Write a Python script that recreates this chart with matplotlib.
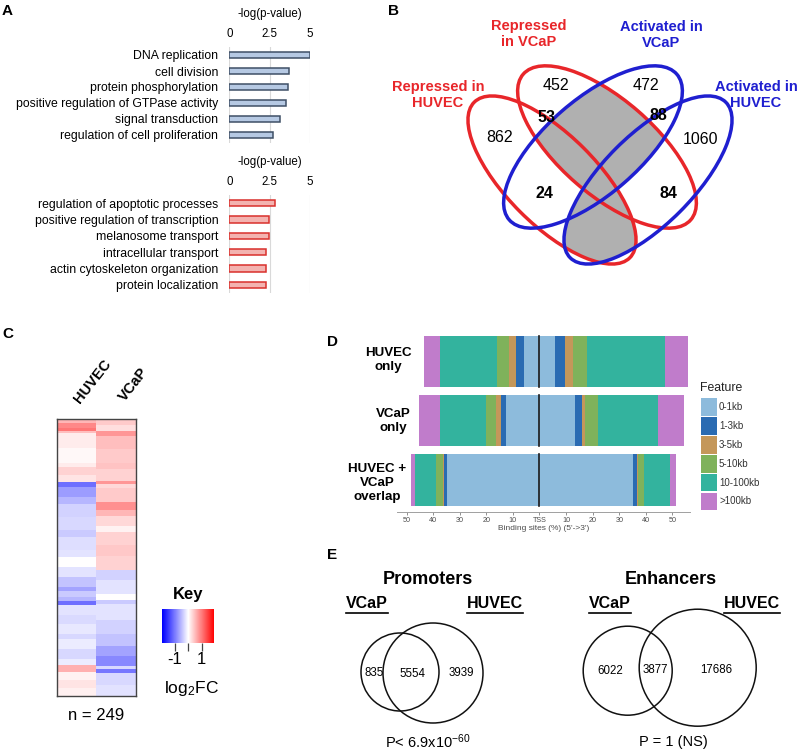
import numpy as np
import matplotlib
matplotlib.use('Agg')
import matplotlib.pyplot as plt
from matplotlib.patches import Ellipse, Circle, Rectangle
from matplotlib.colors import LinearSegmentedColormap, Normalize
import matplotlib.colorbar as mcolorbar

plt.rcParams['font.family'] = ['Liberation Sans', 'DejaVu Sans']
plt.rcParams['mathtext.fontset'] = 'custom'
plt.rcParams['mathtext.rm'] = 'Liberation Sans'
plt.rcParams['mathtext.it'] = 'Liberation Sans:italic'
plt.rcParams['mathtext.bf'] = 'Liberation Sans:bold'

W, H = 800, 751

# ---------------------------------------------------------------------------
# data
# ---------------------------------------------------------------------------
# A: GO terms
go_up_terms = ['DNA replication', 'cell division', 'protein phosphorylation',
               'positive regulation of GTPase activity', 'signal transduction',
               'regulation of cell proliferation']
go_up_vals = [5.0, 3.7, 3.65, 3.5, 3.15, 2.7]
go_down_terms = ['regulation of apoptotic processes',
                 'positive regulation of transcription', 'melanosome transport',
                 'intracellular transport', 'actin cytoskeleton organization',
                 'protein localization']
go_down_vals = [2.83, 2.48, 2.48, 2.25, 2.25, 2.25]
go_ticks = [0, 2.5, 5]

# B: four-way venn counts
venn_sets = ['Repressed in\nHUVEC', 'Repressed\nin VCaP', 'Activated in\nVCaP', 'Activated in\nHUVEC']
venn_counts = {'rep_huvec': 862, 'rep_vcap': 452, 'act_vcap': 472, 'act_huvec': 1060,
               'rep_both': 53, 'act_both': 88, 'rep_huvec_act_vcap': 24, 'rep_vcap_act_huvec': 84}

# C: heatmap (run-length encoded rows, log2FC)
huvec_vals = [0.55, 0.9, 1.05, 0.5, 0.15, 0.05, 0.15, 0.35, 0.2,
              -1.1, -0.75, -0.55, -0.35, -0.3, -0.4, -0.25, -0.2,
              0.0, -0.2, -0.45, -0.7, -0.4, -0.55, -1.1,
              -0.2, -0.28, -0.18, -0.3, -0.15, -0.3, -0.15, 0.6,
              0.1, 0.2, 0.12]
huvec_n = [4, 4, 3, 2, 13, 14, 3, 7, 7,
           4, 9, 6, 12, 12, 6, 12, 6,
           9, 9, 9, 4, 5, 4, 3,
           9, 8, 9, 5, 9, 9, 5, 6,
           8, 7, 7]
vcap_vals = [0.4, 0.25, 0.8, 0.5, 0.4, 0.45, 0.35, 0.8, 0.3, 0.4,
             0.85, 0.55, 0.3, 0.1, 0.35, 0.42,
             0.35, -0.35, -0.2, 0.0, -0.4, -0.2,
             -0.35, -0.45, -0.7, -0.9, -0.3, -1.05, -0.3, -0.22]
vcap_n = [5, 6, 4, 12, 13, 5, 11, 2, 4, 13,
          7, 5, 9, 6, 11, 10,
          13, 9, 12, 6, 3, 15,
          12, 11, 9, 9, 3, 3, 11, 10]
heat_cols = ['HUVEC', 'VCaP']
n_genes = 249

# D: binding site distribution around TSS (%)
features = ['0-1kb', '1-3kb', '3-5kb', '5-10kb', '10-100kb', '>100kb']
feat_colors = ['#8dbbdc', '#2a6bb2', '#c4975a', '#7fb25b', '#33b39e', '#c07ccb']
groups = ['HUVEC\nonly', 'VCaP\nonly', 'HUVEC +\nVCaP\noverlap']
upstream = [[5.75, 3.15, 2.7, 4.4, 21.25, 6.25],
            [12.5, 1.9, 1.85, 3.85, 17.4, 7.9],
            [34.75, 1.0, 0.65, 2.35, 8.25, 1.5]]
downstream = [[5.9, 3.7, 2.9, 5.25, 29.4, 8.8],
              [13.4, 2.5, 1.2, 5.0, 22.3, 9.85],
              [35.0, 1.5, 0.6, 2.15, 9.75, 2.25]]
d_ticks = [-50, -40, -30, -20, -10, 0, 10, 20, 30, 40, 50]
d_ticklabels = ['50', '40', '30', '20', '10', 'TSS', '10', '20', '30', '40', '50']

# E: two-way venns
prom_counts = [835, 5554, 3939]
enh_counts = [6022, 3877, 17686]
prom_p = r'P< 6.9x10$^{-60}$'
enh_p = 'P = 1 (NS)'

RED = '#e8262a'
BLUE = '#1f1fd0'

fig = plt.figure(figsize=(W / 100, H / 100), dpi=100, facecolor='white')


def px_axes(x0, y0, x1, y1):
    return fig.add_axes([x0 / W, 1 - y1 / H, (x1 - x0) / W, (y1 - y0) / H])


ov = fig.add_axes([0, 0, 1, 1])
ov.set_xlim(0, W)
ov.set_ylim(H, 0)
ov.axis('off')
ov.set_zorder(5)

# panel letters
for lab, (x, y) in zip('ABCDE', [(2, 11), (388, 11), (2, 334), (327, 342), (327, 555)]):
    ov.text(x, y, lab, fontsize=11, fontweight='bold', ha='left', va='center')

# ---------------------------------------------------------------------------
# A
# ---------------------------------------------------------------------------
def go_panel(box, terms, vals, fill, edge):
    ax = px_axes(*box)
    ax.barh(range(len(vals)), vals, height=0.38, color=fill, edgecolor=edge, lw=1.1, zorder=3)
    ax.set_xlim(0, 5)
    ax.set_ylim(len(vals) - 0.5, -0.5)
    ax.set_xticks(go_ticks)
    ax.set_xticklabels(['0', '2.5', '5'], fontsize=8.3)
    ax.xaxis.tick_top()
    ax.xaxis.set_label_position('top')
    ax.set_xlabel('-log(p-value)', fontsize=8.3, labelpad=8)
    ax.set_yticks(range(len(terms)))
    ax.set_yticklabels(terms, fontsize=8.8)
    ax.tick_params(axis='y', length=0, pad=8)
    ax.tick_params(axis='x', length=0, pad=5)
    ax.grid(axis='x', color='#d9d9d9', lw=0.8, zorder=0)
    for s in ax.spines.values():
        s.set_visible(False)
    return ax


go_panel((229.3, 47, 310, 143), go_up_terms, go_up_vals, '#b6c9e3', '#3e4f66')
go_panel((229.3, 195, 310, 293), go_down_terms, go_down_vals, '#f3b3b0', '#d9302c')

# ---------------------------------------------------------------------------
# B
# ---------------------------------------------------------------------------
ell = [Ellipse((552, 180), 220, 90, angle=45),
       Ellipse((607, 147), 222, 95, angle=41),
       Ellipse((593, 147), 222, 95, angle=-41),
       Ellipse((648, 180), 220, 90, angle=-45)]
ell_colors = [RED, RED, BLUE, BLUE]

# impossible overlaps shaded grey
for fill_i, clip_i in [(2, 1), (3, 0)]:
    e = ell[fill_i]
    g = Ellipse(e.center, e.width, e.height, angle=e.angle, facecolor='#b0b0b0', edgecolor='none')
    ov.add_patch(g)
    c = Ellipse(ell[clip_i].center, ell[clip_i].width, ell[clip_i].height,
                angle=ell[clip_i].angle, transform=ov.transData)
    g.set_clip_path(c)

for e, col in zip(ell, ell_colors):
    e.set_facecolor('none')
    e.set_edgecolor(col)
    e.set_linewidth(2.5)
    ov.add_patch(e)

for txt, (x, y), col in zip(venn_sets, [(438, 95), (529, 34), (661, 35), (756, 95)],
                            [RED, RED, BLUE, BLUE]):
    ov.text(x, y, txt, color=col, fontsize=10.5, fontweight='bold', ha='center', va='center',
            linespacing=1.2)

num_pos = {'rep_huvec': (500, 138, 'normal'), 'rep_vcap': (556, 85, 'normal'),
           'act_vcap': (646, 85, 'normal'), 'act_huvec': (701, 139, 'normal'),
           'rep_both': (546, 118, 'bold'), 'act_both': (658, 115, 'bold'),
           'rep_huvec_act_vcap': (544, 194, 'bold'), 'rep_vcap_act_huvec': (668, 194, 'bold')}
for k, v in venn_counts.items():
    x, y, wgt = num_pos[k]
    ov.text(x, y, str(v), fontsize=11.5, fontweight=wgt, ha='center', va='center')

# ---------------------------------------------------------------------------
# C
# ---------------------------------------------------------------------------
heat = np.column_stack([np.repeat(huvec_vals, huvec_n), np.repeat(vcap_vals, vcap_n)])
cmap = LinearSegmentedColormap.from_list('bluered', ['#0000ff', '#ffffff', '#ff0000'])
norm = Normalize(-1.95, 1.95)

axc = px_axes(57.3, 419, 136, 695.7)
axc.imshow(heat, aspect='auto', cmap=cmap, norm=norm, interpolation='nearest')
axc.set_xticks([])
axc.set_yticks([])
for s in axc.spines.values():
    s.set_color('#444444')
    s.set_linewidth(1.0)

for lab, (x, y) in zip(heat_cols, [(93, 381), (134, 384)]):
    ov.text(x, y, lab, fontsize=10.5, fontweight='bold', rotation=52, ha='center', va='center')

ov.text(96, 715, 'n = %d' % n_genes, fontsize=12, ha='center', va='center')

ov.text(188, 594, 'Key', fontsize=12, fontweight='bold', ha='center', va='center')
cax = px_axes(162.3, 609, 214.3, 642.7)
cb = mcolorbar.ColorbarBase(cax, cmap=cmap, norm=norm, orientation='horizontal', ticks=[-1, 0, 1])
cb.set_ticklabels(['-1', '', '1'])
cb.outline.set_visible(False)
cax.tick_params(axis='x', length=6, width=0.9, color='#444444', labelsize=12, pad=1)
ov.text(192, 688, r'log$_2$FC', fontsize=12.5, ha='center', va='center')

# ---------------------------------------------------------------------------
# D
# ---------------------------------------------------------------------------
axd = px_axes(396.7, 332, 690, 512)
for i in range(len(groups)):
    up_left = np.concatenate([[0], np.cumsum(upstream[i])[:-1]])
    dn_left = np.concatenate([[0], np.cumsum(downstream[i])[:-1]])
    for j, f in enumerate(features):
        axd.barh(i, -upstream[i][j], left=-up_left[j], height=0.88, color=feat_colors[j], lw=0)
        axd.barh(i, downstream[i][j], left=dn_left[j], height=0.88, color=feat_colors[j], lw=0)
    axd.plot([0, 0], [i - 0.44, i + 0.44], color='#1a1a1a', lw=1.2)
axd.set_xlim(-53.7, 56.6)
axd.set_ylim(2.55, -0.5)
axd.set_yticks([])
axd.set_xticks(d_ticks)
axd.set_xticklabels(d_ticklabels, fontsize=5.2, color='#4d4d4d')
axd.tick_params(axis='x', length=2, width=0.6, color='#7f7f7f', pad=1.5)
axd.set_xlabel("Binding sites (%) (5'->3')", fontsize=6, color='#4d4d4d', labelpad=1)
axd.patch.set_alpha(0)
for k in ['top', 'right', 'left']:
    axd.spines[k].set_visible(False)
axd.spines['bottom'].set_color('#a0a0a0')
axd.spines['bottom'].set_linewidth(0.7)

for txt, (x, y) in zip(groups, [(388, 360), (393, 421), (377, 483)]):
    ov.text(x, y, txt, fontsize=9.6, fontweight='bold', ha='center', va='center',
            linespacing=1.25)

ov.text(700, 388, 'Feature', fontsize=8.8, ha='left', va='center', color='#222222')
for j, (f, c) in enumerate(zip(features, feat_colors)):
    y0 = 397.5 + j * 18.9
    ov.add_patch(Rectangle((700.7, y0 + 0.6), 16, 17.7, facecolor=c, edgecolor='none'))
    ov.text(719, y0 + 9.5, f, fontsize=7, ha='left', va='center', color='#333333')

# ---------------------------------------------------------------------------
# E
# ---------------------------------------------------------------------------
ov.text(428, 579, 'Promoters', fontsize=13, fontweight='bold', ha='center', va='center')
ov.text(671, 579, 'Enhancers', fontsize=13, fontweight='bold', ha='center', va='center')

set_labels = []
for txt, (x, y) in zip(['VCaP', 'HUVEC', 'VCaP', 'HUVEC'],
                       [(367, 604), (495, 604), (610, 604), (752, 604)]):
    set_labels.append(ov.text(x, y, txt, fontsize=11.5, fontweight='bold', ha='center', va='center'))

for (x, y, r) in [(400, 672, 39), (433, 673, 50), (627.7, 670.7, 44.5), (697.7, 667.7, 58.5)]:
    ov.add_patch(Circle((x, y), r, facecolor='none', edgecolor='#111111', lw=1.1))

for v, (x, y) in zip(prom_counts, [(374, 673), (412, 674), (461, 673)]):
    ov.text(x, y, str(v), fontsize=8.3, ha='center', va='center')
for v, (x, y) in zip(enh_counts, [(610.7, 671), (655.7, 670), (716, 670)]):
    ov.text(x, y, str(v), fontsize=8.3, ha='center', va='center')

ov.text(428, 742, prom_p, fontsize=10.5, ha='center', va='center')
ov.text(673, 742, enh_p, fontsize=10.5, ha='center', va='center')

# underline the set labels
fig.canvas.draw()
r = fig.canvas.get_renderer()
for t in set_labels:
    bb = t.get_window_extent(renderer=r)
    yb = H - bb.y0 + 1
    ov.plot([bb.x0, bb.x1], [yb, yb], color='black', lw=1.2)

fig.savefig('out.png', dpi=100, facecolor='white')
